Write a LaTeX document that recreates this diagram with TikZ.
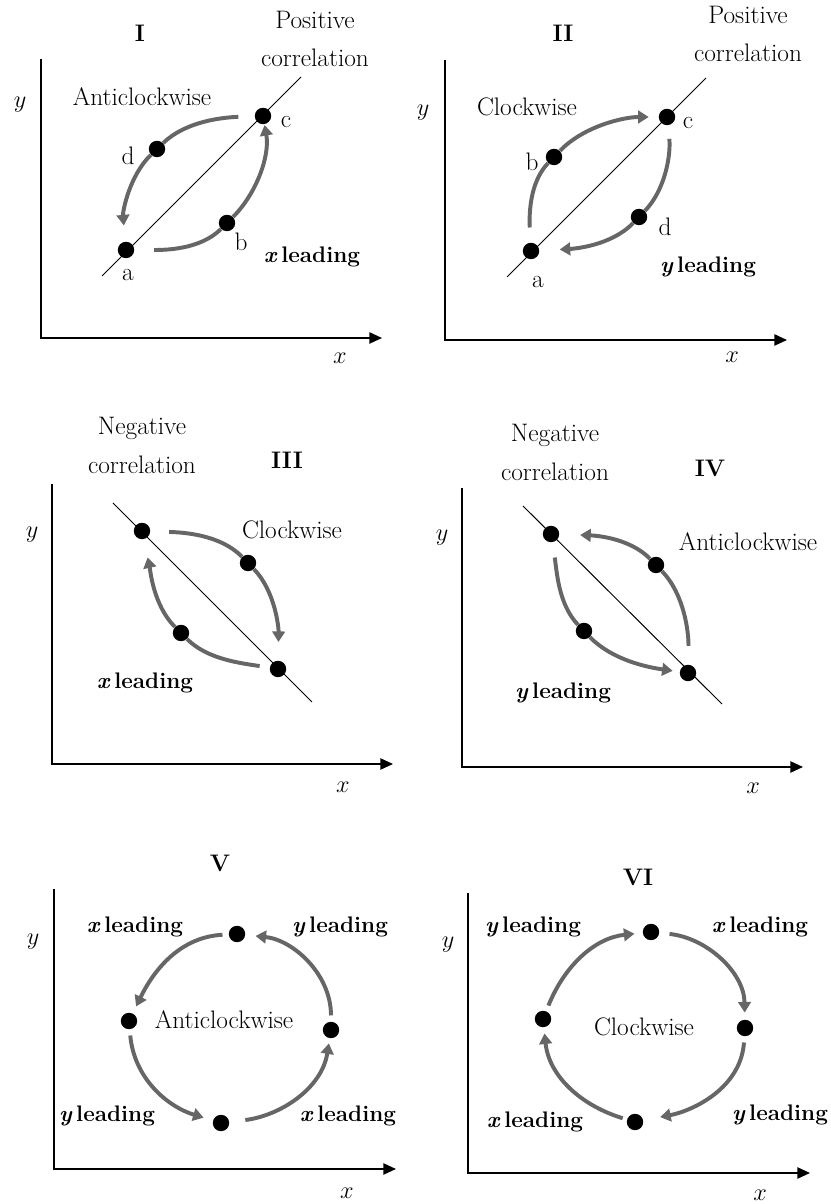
\documentclass[tikz,border=0pt]{standalone}
\usepackage{amsmath,amssymb}
\usepackage{tikz}
\usetikzlibrary{arrows.meta,positioning}

\begin{document}
\begin{tikzpicture}[x=0.25mm,y=0.25mm,
    every node/.style={font=\fontsize{18}{21}\selectfont},
    dot/.style={circle,fill=black,inner sep=0pt,minimum size=4.1mm},
    flowline/.style={draw=black!60,line width=2.8pt,looseness=0.85},
    flow/.style={flowline,-{Triangle[length=7.5pt,width=9pt]}},
    loopflow/.style={flow,looseness=1},
    axis/.style={line width=1.2pt,-{Triangle[length=9pt,width=8pt]}},
    corr/.style={line width=0.7pt},
    lead/.style={font=\fontsize{16}{19}\selectfont\bfseries},
    title/.style={font=\fontsize{17}{20}\selectfont\bfseries}]
    \useasboundingbox (0,0) rectangle (830,1204);

    % I
    \draw[axis] (41,1145) -- (41,866) -- (382,866);
    \node (I-y) at (20,1099) {$y$};
    \node (I-x) at (340,846) {$x$};
    \node[title] (I-t) at (140,1171) {I};
    \node (I-p1) at (315,1184) {Positive};
    \node (I-p2) at (315,1146) {correlation};
    \node (I-rot) at (142,1107) {Anticlockwise};
    \node[lead] (I-lead) at (312,947) {\textit{x}\,leading};
    \draw[corr] (102,928) -- (301,1127);
    \node[dot] (Ia) at (126,954) {};
    \node[dot] (Ib) at (227,981) {};
    \node[dot] (Ic) at (263,1088) {};
    \node[dot] (Id) at (157,1055) {};
    \node (Ia-l) at (128,929) {a};
    \node (Ib-l) at (241,962) {b};
    \node (Ic-l) at (286,1082) {c};
    \node (Id-l) at (128,1048) {d};
    \draw[flowline,shorten <=11.5pt] (Ic) to[out=182,in=44] (Id);
    \draw[flow,shorten >=11.5pt] (Id) to[out=224,in=95] (Ia);
    \draw[flowline,shorten <=13.9pt] (Ia) to[out=0,in=225] (Ib);
    \draw[flow,shorten >=0.5pt] (Ib) to[out=45,in=-80] (Ic);

    % II
    \draw[axis] (445,1144) -- (445,864) -- (787,864);
    \node (II-y) at (423,1091) {$y$};
    \node (II-x) at (732,847) {$x$};
    \node[title] (II-t) at (563,1171) {II};
    \node (II-p1) at (748,1189) {Positive};
    \node (II-p2) at (748,1151) {correlation};
    \node (II-rot) at (527,1097) {Clockwise};
    \node[lead] (II-lead) at (708,937) {\textit{y}\,leading};
    \draw[corr] (507,927) -- (706,1126);
    \node[dot] (IIa) at (531,953) {};
    \node[dot] (IIb) at (554,1047) {};
    \node[dot] (IIc) at (667,1087) {};
    \node[dot] (IId) at (639,987) {};
    \node (IIa-l) at (538,922) {a};
    \node (IIb-l) at (532,1042) {b};
    \node (IIc-l) at (688,1081) {c};
    \node (IId-l) at (665,977) {d};
    \draw[flowline,shorten <=10.7pt] (IIa) to[out=93,in=226] (IIb);
    \draw[flow,shorten >=7pt] (IIb) to[out=46,in=180] (IIc);
    \draw[flowline,shorten <=9.6pt] (IIc) to[out=-84,in=46] (IId);
    \draw[flow,shorten >=14.4pt] (IId) to[out=226,in=3] (IIa);

    % III
    \draw[axis] (52,720) -- (52,440) -- (393,440);
    \node (III-y) at (32,669) {$y$};
    \node (III-x) at (343,417) {$x$};
    \node[title] (III-t) at (287,744) {III};
    \node (III-n1) at (142,776) {Negative};
    \node (III-n2) at (142,739) {correlation};
    \node (III-rot) at (292,674) {Clockwise};
    \node[lead] (III-lead) at (145,521) {\textit{x}\,leading};
    \draw[corr] (113,701) -- (312,502);
    \node[dot] (IIIa) at (142,673) {};
    \node[dot] (IIIb) at (248,641) {};
    \node[dot] (IIIc) at (278,535) {};
    \node[dot] (IIId) at (181,571) {};
    \draw[flowline,shorten <=13.3pt] (IIIa) to[out=-2,in=134] (IIIb);
    \draw[flow,shorten >=13.2pt] (IIIb) to[out=-46,in=89] (IIIc);
    \draw[flowline,shorten <=7.2pt] (IIIc) to[out=171,in=-45] (IIId);
    \draw[flow,shorten >=13.2pt] (IIId) to[out=135,in=-78] (IIIa);

    % IV
    \draw[axis] (462,716) -- (462,437) -- (803,437);
    \node (IV-y) at (442,666) {$y$};
    \node (IV-x) at (753,416) {$x$};
    \node[title] (IV-t) at (710,736) {IV};
    \node (IV-n1) at (555,769) {Negative};
    \node (IV-n2) at (555,732) {correlation};
    \node (IV-rot) at (748,662) {Anticlockwise};
    \node[lead] (IV-lead) at (563,511) {\textit{y}\,leading};
    \draw[corr] (523,698) -- (722,500);
    \node[dot] (IVa) at (551,670) {};
    \node[dot] (IVb) at (656,639) {};
    \node[dot] (IVc) at (688,531) {};
    \node[dot] (IVd) at (584,573) {};
    \draw[flowline,shorten <=13.2pt] (IVc) to[out=89,in=-46] (IVb);
    \draw[flow,shorten >=14.7pt] (IVb) to[out=134,in=-2] (IVa);
    \draw[flowline,shorten <=10.9pt] (IVa) to[out=-81,in=134] (IVd);
    \draw[flow,shorten >=5pt] (IVd) to[out=-46,in=172] (IVc);

    % V
    \draw[axis] (54,315) -- (54,35) -- (396,35);
    \node (V-y) at (33,262) {$y$};
    \node (V-x) at (347,11) {$x$};
    \node[title] (V-t) at (220,341) {V};
    \node (V-rot) at (224,184) {Anticlockwise};
    \node[lead] (V-tl) at (135,277) {\textit{x}\,leading};
    \node[lead] (V-tr) at (340,277) {\textit{y}\,leading};
    \node[lead] (V-bl) at (107,88) {\textit{y}\,leading};
    \node[lead] (V-br) at (348,88) {\textit{x}\,leading};
    \node[dot] (Vt) at (237,270) {};
    \node[dot] (Vl) at (129,183) {};
    \node[dot] (Vr) at (331,174) {};
    \node[dot] (Vb) at (221,81) {};
    \draw[loopflow,shorten <=4.3pt,shorten >=5.5pt] (Vt) to[out=183,in=64] (Vl);
    \draw[loopflow,shorten <=4.3pt,shorten >=6.9pt] (Vl) to[out=-85,in=163] (Vb);
    \draw[loopflow,shorten <=11.4pt,shorten >=3.6pt] (Vb) to[out=7,in=-99] (Vr);
    \draw[loopflow,shorten <=4.3pt,shorten >=7.2pt] (Vr) to[out=90,in=-6] (Vt);

    % VI
    \draw[axis] (468,311) -- (468,31) -- (810,31);
    \node (VI-y) at (448,259) {$y$};
    \node (VI-x) at (760,9) {$x$};
    \node[title] (VI-t) at (638,327) {VI};
    \node (VI-rot) at (644,177) {Clockwise};
    \node[lead] (VI-tl) at (533,277) {\textit{y}\,leading};
    \node[lead] (VI-tr) at (760,277) {\textit{x}\,leading};
    \node[lead] (VI-bl) at (535,82) {\textit{x}\,leading};
    \node[lead] (VI-br) at (780,89) {\textit{y}\,leading};
    \node[dot] (VIt) at (651,272) {};
    \node[dot] (VIr) at (745,176) {};
    \node[dot] (VIb) at (635,82) {};
    \node[dot] (VIl) at (543,185) {};
    \draw[loopflow,shorten <=4.3pt,shorten >=5.8pt] (VIl) to[out=68,in=186] (VIt);
    \draw[loopflow,shorten <=7.2pt,shorten >=5pt] (VIt) to[out=-6,in=91] (VIr);
    \draw[loopflow,shorten <=4.3pt,shorten >=12.2pt] (VIr) to[out=-94,in=11] (VIb);
    \draw[loopflow,shorten <=3.1pt,shorten >=4.3pt] (VIb) to[out=163,in=-84] (VIl);
\end{tikzpicture}
\end{document}
